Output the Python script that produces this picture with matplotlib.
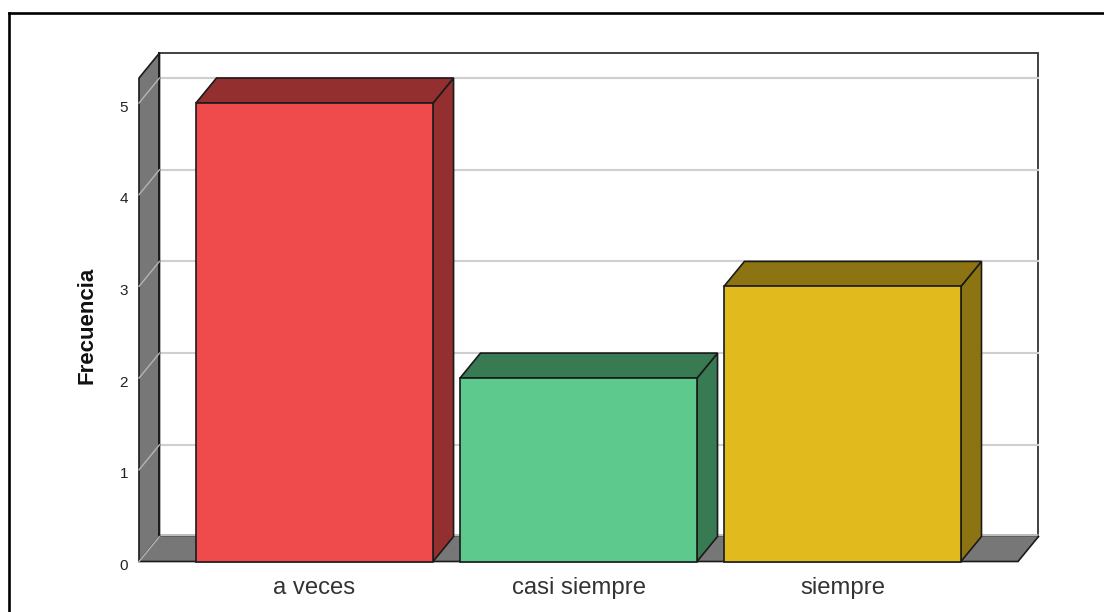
import matplotlib
matplotlib.use("Agg")
import matplotlib.pyplot as plt
from matplotlib.lines import Line2D
from matplotlib.patches import Polygon
from matplotlib.transforms import ScaledTranslation

categories = ["a veces", "casi siempre", "siempre"]
values = [5, 2, 3]
y_ticks = [0, 1, 2, 3, 4, 5]
front_colors = ["#EF4B4D", "#5DC98C", "#E1BB1E"]
shade_colors = ["#93302F", "#387A52", "#8C7412"]

W, H = 1104, 612
plt.rcParams["font.family"] = ["Liberation Sans", "DejaVu Sans"]
fig = plt.figure(figsize=(W / 100, H / 100), dpi=100, facecolor="white")

# plot frame (runs off the right and bottom edges)
fig.add_artist(Line2D([8.7 / W, 8.7 / W], [0, 1 - 12.8 / H], color="black", lw=1.9))
fig.add_artist(Line2D([8.7 / W, 1], [1 - 12.8 / H, 1 - 12.8 / H], color="black", lw=1.9))

left, right, bottom, top = 139, 1018, 561.5, 78
ax = fig.add_axes([left / W, 1 - bottom / H, (right - left) / W, (bottom - top) / H])
x_lo, x_hi = -0.665, 2.665
y_hi = (bottom - top) / 91.7
ax.set_xlim(x_lo, x_hi)
ax.set_ylim(0, y_hi)
ax.patch.set_alpha(0)
for s in ax.spines.values():
    s.set_visible(False)

dx = 20.5 / 264
dy = 25 / 91.7
bar_w = 0.898
edge = "#1a1a1a"
wall = "#777777"
grid = "#cfcfcf"

def poly(pts, fc, ec=edge, lw=1.2, z=2):
    ax.add_patch(Polygon(pts, closed=True, facecolor=fc, edgecolor=ec,
                         linewidth=lw, zorder=z, clip_on=False, joinstyle="miter"))

# back wall outline
poly([(x_lo + dx, dy), (x_lo + dx, y_hi + dy), (x_hi + dx, y_hi + dy), (x_hi + dx, dy)],
     "white", ec="#333333", lw=1.3, z=1)
# left wall and floor
poly([(x_lo, 0), (x_lo, y_hi), (x_lo + dx, y_hi + dy), (x_lo + dx, dy)], wall, z=2)
poly([(x_lo, 0), (x_lo + dx, dy), (x_hi + dx, dy), (x_hi, 0)], wall, ec="none", lw=0, z=2)
ax.plot([x_hi + dx, x_hi, x_lo], [dy, 0, 0], color=edge, lw=1.2, zorder=2.2, clip_on=False)
ax.plot([x_lo + dx, x_lo + dx], [dy, y_hi + dy], color=edge, lw=1.3, zorder=2.2, clip_on=False)
ax.plot([x_lo + dx, x_hi + dx], [dy + 0.012, dy + 0.012], color="#b0b0b0", lw=1.2, zorder=1.9, clip_on=False)

# grid lines on the back wall and across the left wall
for v in y_ticks:
    if v > 0:
        ax.plot([x_lo + dx, x_hi + dx], [v + dy, v + dy], color=grid, lw=1.5, zorder=1.5, clip_on=False)
    ax.plot([x_lo, x_lo + dx], [v, v + dy], color="#b5b5b5", lw=1.0, zorder=2.5, clip_on=False)
ax.plot([x_lo + dx, x_hi + dx], [y_hi, y_hi], color=grid, lw=1.5, zorder=1.5, clip_on=False)

# 3D bars
for i, (v, fc, sc) in enumerate(zip(values, front_colors, shade_colors)):
    a, b = i - bar_w / 2, i + bar_w / 2
    poly([(b, 0), (b, v), (b + dx, v + dy), (b + dx, dy)], sc, z=3)
    poly([(a, v), (a + dx, v + dy), (b + dx, v + dy), (b, v)], sc, z=3)
    poly([(a, 0), (a, v), (b, v), (b, 0)], fc, z=4)

ax.set_xticks(range(len(categories)), categories)
ax.set_yticks(y_ticks)
ax.tick_params(axis="x", length=0, pad=11.5, labelsize=17.2, labelcolor="#333333")
ax.tick_params(axis="y", length=0, pad=8, labelsize=11, labelcolor="#222222")
shift = ScaledTranslation(0, -3 / 100, fig.dpi_scale_trans)
for lab in ax.get_yticklabels():
    lab.set_transform(lab.get_transform() + shift)
fig.text(87 / W, 1 - 325.5 / H, "Frecuencia", rotation=90, fontsize=16, fontweight="bold",
         ha="center", va="center", color="#111111")

fig.savefig("out.png", dpi=100, facecolor="white")
